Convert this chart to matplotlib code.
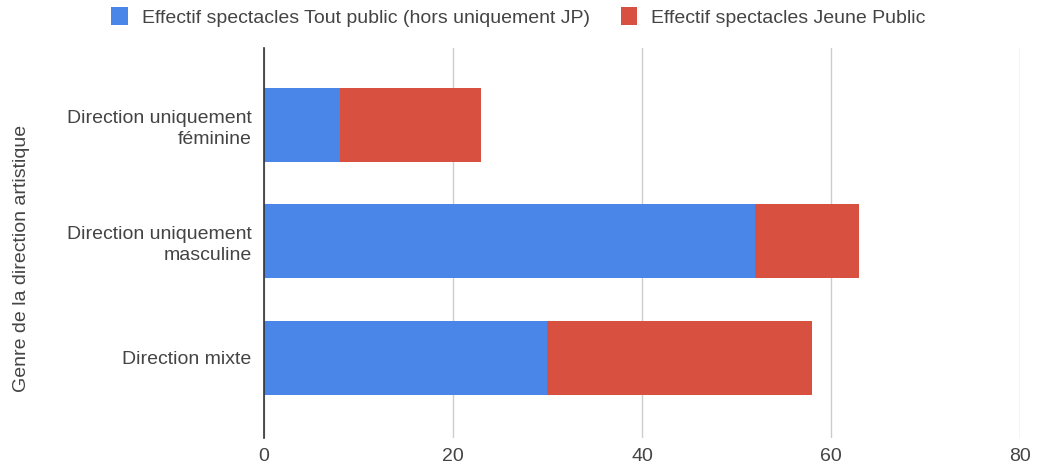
import matplotlib.pyplot as plt
import numpy as np

categories = ['Direction uniquement\nféminine', 'Direction uniquement\nmasculine', 'Direction mixte']
tout_public = [8, 52, 30]
jeune_public = [15, 11, 28]
series_labels = ['Effectif spectacles Tout public (hors uniquement JP)', 'Effectif spectacles Jeune Public']
x_ticks = [0, 20, 40, 60, 80]

BLUE = '#4a86e8'
RED = '#d85140'
TEXT = '#444444'

plt.rcParams['font.family'] = ['Liberation Sans', 'DejaVu Sans']

fig = plt.figure(figsize=(10.45, 4.65), dpi=100)
ax = fig.add_axes([0.2526, 0.058, 0.7234, 0.839])

y = np.arange(len(categories))
h = 0.635
b1 = ax.barh(y, tout_public, height=h, color=BLUE, label=series_labels[0], zorder=3)
b2 = ax.barh(y, jeune_public, left=tout_public, height=h, color=RED, label=series_labels[1], zorder=3)

ax.set_xlim(0, 80)
ax.set_ylim(2.69, -0.66)
ax.set_xticks(x_ticks)
ax.set_yticks(y)
ax.set_yticklabels(categories, ha='right', multialignment='right', linespacing=1.3)
ax.tick_params(axis='both', length=0, labelsize=14, colors=TEXT)
ax.tick_params(axis='x', pad=7)
ax.tick_params(axis='y', pad=9)
ax.grid(axis='x', color='#cccccc', linewidth=1, zorder=0)

for s in ['top', 'right', 'bottom']:
    ax.spines[s].set_visible(False)
ax.spines['left'].set_color('#333333')
ax.spines['left'].set_linewidth(1.2)
ax.spines['left'].set_zorder(4)

fig.text(0.021, 0.445, 'Genre de la direction artistique', rotation=90, ha='center', va='center',
         fontsize=14, color=TEXT)

fig.legend(handles=[b1, b2], loc='upper center', bbox_to_anchor=(0.496, 1.022), ncol=2,
           frameon=False, fontsize=14, labelcolor=TEXT, handlelength=0.85, handleheight=1.0,
           handletextpad=0.7, columnspacing=1.6)

fig.savefig('out.png', dpi=100)
